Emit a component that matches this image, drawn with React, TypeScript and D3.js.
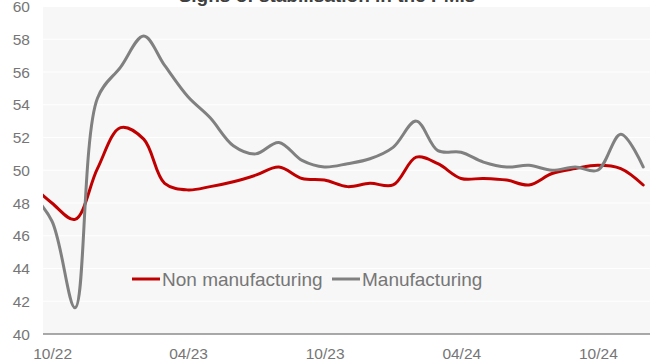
import React from "react";
import * as d3 from "d3";

// Plot dates (month-end positions as they appear on the chart's date axis)
const months: string[] = [
  "2022-08", "2022-09", "2022-10", "2022-11", "2022-12",
  "2023-01", "2023-02", "2023-03", "2023-04", "2023-05", "2023-06",
  "2023-07", "2023-08", "2023-09", "2023-10", "2023-11", "2023-12",
  "2024-01", "2024-02", "2024-03", "2024-04", "2024-05", "2024-06",
  "2024-07", "2024-08", "2024-09", "2024-10", "2024-11",
];

const nonManufacturing: number[] = [
  49.2, 48.0, 47.0, 50.1, 52.6, 51.9, 49.2, 48.8, 49.0, 49.3, 49.7, 50.2,
  49.5, 49.4, 49.0, 49.2, 49.1, 50.8, 50.4, 49.5, 49.5, 49.4, 49.1, 49.8,
  50.1, 50.3, 50.1, 49.1,
];

const manufacturing: number[] = [
  48.7, 46.9, 41.6, 54.4, 56.3, 58.2, 56.4, 54.5, 53.2, 51.5, 51.0, 51.7,
  50.6, 50.2, 50.4, 50.7, 51.4, 53.0, 51.2, 51.1, 50.5, 50.2, 50.3, 50.0,
  50.2, 50.0, 52.2, 50.2,
];

const yTicks: number[] = [40, 42, 44, 46, 48, 50, 52, 54, 56, 58, 60];
const xTickLabels: string[] = ["10/22", "04/23", "10/23", "04/24", "10/24"];

const seriesNames: string[] = ["Non manufacturing", "Manufacturing"];
const seriesColors: string[] = ["#c00000", "#808080"];

const titleText = "Signs of stabilisation in the PMIs";

const W = 650;
const H = 363;
const plotLeft = 43;
const plotRight = 650;
const plotTop = 6.5;
const plotBottom = 334;

const font = "Arial, 'Liberation Sans', sans-serif";

export default function App() {
  const parseMonth = d3.timeParse("%Y-%m");
  // month-end date for each month
  const dates = months.map((m) => {
    const d = parseMonth(m) as Date;
    return d3.timeDay.offset(d3.timeMonth.offset(d, 1), -1);
  });
  const tickDates = xTickLabels.map((s) => d3.timeParse("%m/%y")(s) as Date);

  const x = d3
    .scaleTime()
    .domain([dates[0], dates[dates.length - 1]])
    .range([29.5, 643.2]);
  const y = d3.scaleLinear().domain([40, 60]).range([plotBottom, plotTop]);

  const line = d3
    .line<number>()
    .x((_, i) => x(dates[i]))
    .y((v) => y(v))
    .curve(d3.curveCatmullRom.alpha(0.5));

  const series = [nonManufacturing, manufacturing];

  return (
    <svg
      width={W}
      height={H}
      style={{ position: "fixed", left: 0, top: 0, background: "#ffffff" }}
      fontFamily={font}
    >
      <defs>
        <clipPath id="plotclip">
          <rect x={plotLeft} y={0} width={plotRight - plotLeft} height={plotBottom} />
        </clipPath>
      </defs>
      <text
        x={327}
        y={2}
        textAnchor="middle"
        fontSize={19}
        fontWeight="bold"
        fill="#404040"
      >
        {titleText}
      </text>
      <rect
        x={plotLeft}
        y={plotTop}
        width={plotRight - plotLeft}
        height={plotBottom - plotTop}
        fill="#f7f7f7"
      />
      {yTicks.map((t) => (
        <g key={t}>
          {t !== 40 && (
            <line
              x1={plotLeft}
              x2={plotRight}
              y1={y(t)}
              y2={y(t)}
              stroke="#ffffff"
              strokeWidth={1.2}
            />
          )}
          <text
            x={30}
            y={y(t)}
            dy="0.36em"
            textAnchor="end"
            fontSize={15.5}
            fill="#767676"
          >
            {t}
          </text>
        </g>
      ))}
      <line
        x1={plotLeft}
        x2={plotRight}
        y1={plotBottom}
        y2={plotBottom}
        stroke="#8c8c8c"
        strokeWidth={1.3}
      />
      {tickDates.map((d, i) => (
        <text
          key={i}
          x={x(d)}
          y={358.5}
          textAnchor="middle"
          fontSize={15.5}
          fill="#767676"
        >
          {xTickLabels[i]}
        </text>
      ))}
      <g clipPath="url(#plotclip)">
        {series.map((s, i) => (
          <path
            key={i}
            d={line(s) || ""}
            fill="none"
            stroke={seriesColors[i]}
            strokeWidth={3}
            strokeLinejoin="round"
            strokeLinecap="round"
          />
        ))}
      </g>
      <g>
        <line x1={132} x2={160} y1={279} y2={279} stroke={seriesColors[0]} strokeWidth={3} />
        <text x={162} y={286} fontSize={19} fill="#767676">
          {seriesNames[0]}
        </text>
        <line x1={332} x2={360} y1={279} y2={279} stroke={seriesColors[1]} strokeWidth={3} />
        <text x={362} y={286} fontSize={19} fill="#767676">
          {seriesNames[1]}
        </text>
      </g>
    </svg>
  );
}
